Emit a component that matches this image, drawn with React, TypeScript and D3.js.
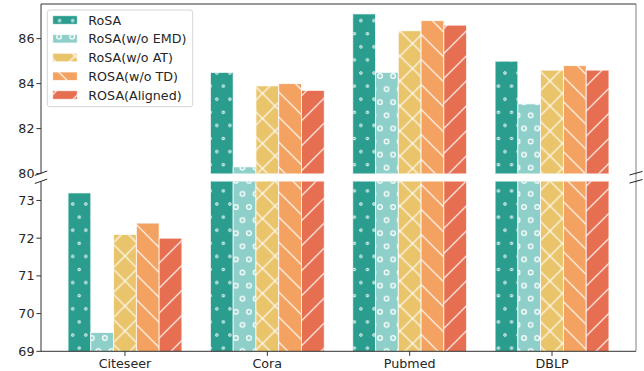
import React from "react";
import * as d3 from "d3";

const categories = ["Citeseer", "Cora", "Pubmed", "DBLP"];
const seriesNames = ["RoSA", "RoSA(w/o EMD)", "RoSA(w/o AT)", "ROSA(w/o TD)", "ROSA(Aligned)"];
const rosa = [73.2, 84.5, 87.1, 85.0];
const woEMD = [69.5, 80.3, 84.5, 83.1];
const woAT = [72.1, 83.9, 86.35, 84.6];
const woTD = [72.4, 84.0, 86.8, 84.8];
const aligned = [72.0, 83.7, 86.6, 84.6];
const topTicks = [80, 82, 84, 86];
const bottomTicks = [69, 70, 71, 72, 73];

const seriesValues = [rosa, woEMD, woAT, woTD, aligned];
const colors = ["#2a9d8f", "#8ecfc9", "#e9c46a", "#f4a261", "#e76f51"];
const patternIds = ["pSmallCirc", "pLargeCirc", "pCross", "pBack", "pFwd"];

const W = 644;
const H = 371;
const X0 = 41;
const X1 = 636;
const TOP_Y0 = 4;
const TOP_Y1 = 173.6;
const BOT_Y0 = 181.6;
const BOT_Y1 = 351.3;
const FONT = "DejaVu Sans, Verdana, sans-serif";
const FS = 12.7;
const TXT = "#262626";
const SPINE = "#333333";

export default function App() {
  const x = d3.scaleLinear().domain([-0.59, 3.59]).range([X0, X1]);
  const yTop = d3.scaleLinear().domain([80, 87.54]).range([TOP_Y1, TOP_Y0]);
  const yBot = d3.scaleLinear().domain([69, 73.5]).range([BOT_Y1, BOT_Y0]);
  const bw = x(0.16) - x(0);
  const s = 13.1;
  const L = 25;

  const bars = (yScale: any, clip: string, bottomPx: number) => (
    <g clipPath={`url(#${clip})`}>
      {seriesValues.map((vals, si) =>
        vals.map((v, ci) => {
          const cx = x(ci + (si - 2) * 0.16);
          const yv = yScale(v);
          const h = bottomPx - yv;
          if (h <= 0) return null;
          return (
            <g key={`${si}-${ci}`}>
              <rect x={cx - bw / 2} y={yv} width={bw} height={h} fill={colors[si]} />
              <rect x={cx - bw / 2} y={yv} width={bw} height={h} fill={`url(#${patternIds[si]})`} stroke="#ffffff" strokeWidth={0.9} strokeOpacity={0.85} />
            </g>
          );
        })
      )}
    </g>
  );

  const legendRows = [20, 38.75, 57.5, 76.25, 95];

  return (
    <svg width={W} height={H} style={{ position: "absolute", left: 0, top: 0, background: "#fff" }} fontFamily={FONT}>
      <defs>
        <clipPath id="clipTop">
          <rect x={X0} y={TOP_Y0} width={X1 - X0} height={TOP_Y1 - TOP_Y0} />
        </clipPath>
        <clipPath id="clipBot">
          <rect x={X0} y={BOT_Y0} width={X1 - X0} height={BOT_Y1 - BOT_Y0} />
        </clipPath>
        <pattern id="pSmallCirc" patternUnits="userSpaceOnUse" x={7.2} y={20.6} width={s} height={2 * s}>
          {[[0, 0], [s, 0], [0, 2 * s], [s, 2 * s], [s / 2, s]].map(([cx, cy], i) => (
            <circle key={i} cx={cx} cy={cy} r={1.2} fill="none" stroke="#fff" strokeWidth={0.95} />
          ))}
        </pattern>
        <pattern id="pLargeCirc" patternUnits="userSpaceOnUse" x={0.1} y={23.6} width={s} height={2 * s}>
          {[[0, 0], [s, 0], [0, 2 * s], [s, 2 * s], [s / 2, s]].map(([cx, cy], i) => (
            <circle key={i} cx={cx} cy={cy} r={2.3} fill="none" stroke="#fff" strokeWidth={1.3} />
          ))}
        </pattern>
        <pattern id="pCross" patternUnits="userSpaceOnUse" x={12.5} y={18.5} width={L} height={L}>
          <path d={`M0,0L${L},${L}M0,${L}L${L},0`} stroke="#fff" strokeWidth={1.2} />
        </pattern>
        <pattern id="pBack" patternUnits="userSpaceOnUse" x={11.7} y={0} width={L} height={L}>
          <path d={`M0,0L${L},${L}M${-L / 4},${(3 * L) / 4}L${L / 4},${(5 * L) / 4}M${(3 * L) / 4},${-L / 4}L${(5 * L) / 4},${L / 4}`} stroke="#fff" strokeWidth={1.2} />
        </pattern>
        <pattern id="pFwd" patternUnits="userSpaceOnUse" x={22.3} y={0} width={L} height={L}>
          <path d={`M0,${L}L${L},0M${-L / 4},${L / 4}L${L / 4},${-L / 4}M${(3 * L) / 4},${(5 * L) / 4}L${(5 * L) / 4},${(3 * L) / 4}`} stroke="#fff" strokeWidth={1.2} />
        </pattern>
      </defs>

      {bars(yTop, "clipTop", TOP_Y1 + 2)}
      {bars(yBot, "clipBot", BOT_Y1 + 2)}

      {/* spines */}
      <line x1={X0} x2={X1} y1={TOP_Y0} y2={TOP_Y0} stroke={SPINE} strokeWidth={1} />
      <line x1={X0} x2={X0} y1={TOP_Y0} y2={TOP_Y1} stroke={SPINE} strokeWidth={1} />
      <line x1={X0} x2={X0} y1={BOT_Y0} y2={BOT_Y1} stroke={SPINE} strokeWidth={1} />
      <line x1={X0} x2={X1} y1={BOT_Y1} y2={BOT_Y1} stroke={SPINE} strokeWidth={1} />
      <line x1={X1} x2={X1} y1={TOP_Y0} y2={BOT_Y1} stroke="#808080" strokeWidth={1} />

      {/* break marks */}
      {[TOP_Y1 - 0.4, BOT_Y0 - 0.3].map((yy, i) => (
        <g key={i}>
          <line x1={X0 - 6.2} y1={yy + 2.2} x2={X0 + 6.2} y2={yy - 2.2} stroke="#222" strokeWidth={1} />
          <line x1={X1 - 6.5} y1={yy + 1.8} x2={X1 + 6.5} y2={yy - 1.8} stroke="#222" strokeWidth={1} />
        </g>
      ))}

      {/* y ticks top */}
      {topTicks.map((t) => (
        <g key={`t${t}`}>
          <line x1={X0 - 4.6} x2={X0} y1={yTop(t)} y2={yTop(t)} stroke={SPINE} strokeWidth={1} />
          <text x={X0 - 6.5} y={yTop(t)} dy="0.36em" textAnchor="end" fontSize={FS} fill={TXT}>{t}</text>
        </g>
      ))}
      {bottomTicks.map((t) => (
        <g key={`b${t}`}>
          <line x1={X0 - 4.6} x2={X0} y1={yBot(t)} y2={yBot(t)} stroke={SPINE} strokeWidth={1} />
          <text x={X0 - 6.5} y={yBot(t)} dy="0.36em" textAnchor="end" fontSize={FS} fill={TXT}>{t}</text>
        </g>
      ))}

      {/* x ticks */}
      {categories.map((c, i) => (
        <g key={c}>
          <line x1={x(i)} x2={x(i)} y1={BOT_Y1} y2={BOT_Y1 + 4.6} stroke={SPINE} strokeWidth={1} />
          <text x={x(i)} y={367.6} textAnchor="middle" fontSize={FS} fill={TXT}>{c}</text>
        </g>
      ))}

      {/* legend */}
      <rect x={47.3} y={10} width={145.4} height={96.7} rx={2.5} fill="#fff" fillOpacity={0.8} stroke="#d5d5d5" strokeWidth={1} />
      {seriesNames.map((n, i) => (
        <g key={n}>
          <rect x={52.7} y={legendRows[i] - 4.3} width={24.6} height={8.6} fill={colors[i]} />
          <rect x={52.7} y={legendRows[i] - 4.3} width={24.6} height={8.6} fill={`url(#${patternIds[i]})`} stroke="#fff" strokeWidth={0.9} strokeOpacity={0.85} />
          <text x={88.3} y={legendRows[i]} dy="0.36em" fontSize={FS} fill={TXT}>{n}</text>
        </g>
      ))}
    </svg>
  );
}
